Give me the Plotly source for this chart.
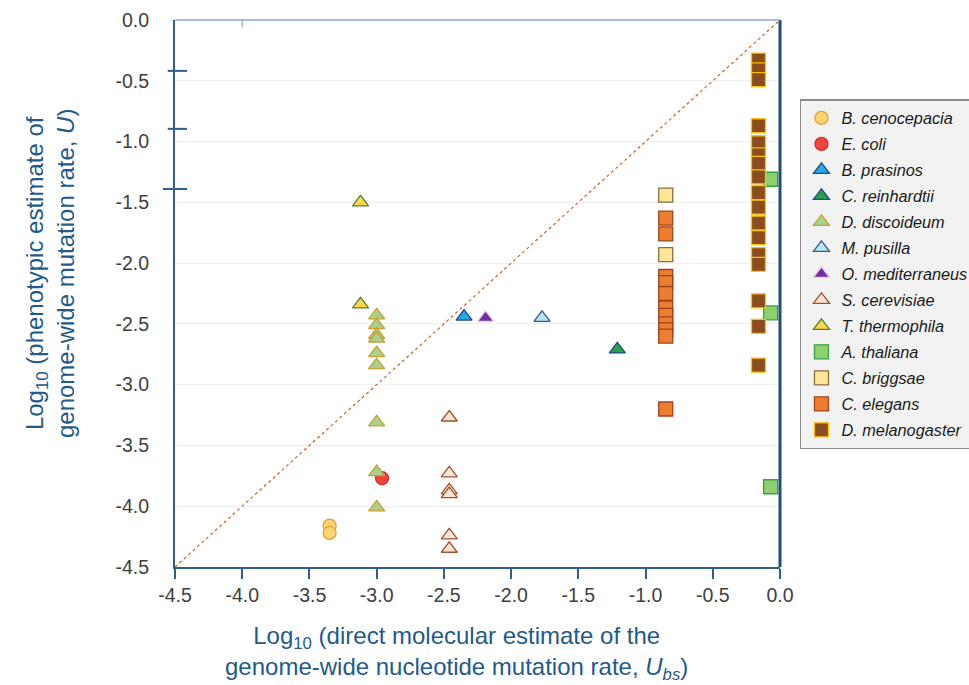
import plotly.graph_objects as go

# ---- data (log10 values) ----
species = ["B. cenocepacia", "E. coli", "B. prasinos", "C. reinhardtii", "D. discoideum",
           "M. pusilla", "O. mediterraneus", "S. cerevisiae", "T. thermophila",
           "A. thaliana", "C. briggsae", "C. elegans", "D. melanogaster"]

b_cenocepacia_x = [-3.35, -3.35]
b_cenocepacia_y = [-4.16, -4.22]
e_coli_x = [-2.96]
e_coli_y = [-3.77]
b_prasinos_x = [-2.35]
b_prasinos_y = [-2.44]
c_reinhardtii_x = [-1.21]
c_reinhardtii_y = [-2.71]
d_discoideum_x = [-3.0] * 9
d_discoideum_y = [-2.43, -2.51, -2.59, -2.62, -2.74, -2.84, -3.31, -3.72, -4.01]
m_pusilla_x = [-1.77]
m_pusilla_y = [-2.45]
o_mediterraneus_x = [-2.19]
o_mediterraneus_y = [-2.45]
s_cerevisiae_x = [-2.46] * 6
s_cerevisiae_y = [-3.27, -3.73, -3.87, -3.90, -4.24, -4.35]
t_thermophila_x = [-3.12, -3.12]
t_thermophila_y = [-1.50, -2.34]
a_thaliana_x = [-0.07, -0.07, -0.07]
a_thaliana_y = [-1.31, -2.41, -3.84]
c_briggsae_x = [-0.85, -0.85]
c_briggsae_y = [-1.44, -1.93]
c_elegans_x = [-0.85] * 11
c_elegans_y = [-1.63, -1.76, -2.11, -2.16, -2.25, -2.37, -2.43, -2.50, -2.55, -2.60, -3.20]
d_melanogaster_x = [-0.16] * 17
d_melanogaster_y = [-0.33, -0.41, -0.49, -0.87, -1.01, -1.11, -1.18, -1.29, -1.42,
                    -1.54, -1.67, -1.79, -1.93, -2.01, -2.31, -2.52, -2.84]

identity_x = [-4.5, 0.0]
identity_y = [-4.5, 0.0]

x_ticks = [-4.5, -4.0, -3.5, -3.0, -2.5, -2.0, -1.5, -1.0, -0.5, 0.0]
y_ticks = [0.0, -0.5, -1.0, -1.5, -2.0, -2.5, -3.0, -3.5, -4.0, -4.5]
x_ticklabels = ["-4.5", "-4.0", "-3.5", "-3.0", "-2.5", "-2.0", "-1.5", "-1.0", "-0.5", "0.0"]
y_ticklabels = ["0.0", "-0.5", "-1.0", "-1.5", "-2.0", "-2.5", "-3.0", "-3.5", "-4.0", "-4.5"]

x_title = "Log<sub>10</sub> (direct molecular estimate of the<br>genome-wide nucleotide mutation rate, <i>U<sub>bs</sub></i>)"
y_title = "Log<sub>10</sub> (phenotypic estimate of<br>genome-wide mutation rate, <i>U</i>)"

series = [
    (b_cenocepacia_x, b_cenocepacia_y, "circle", "#FFD470", "#D9A441"),
    (e_coli_x, e_coli_y, "circle", "#EE4444", "#D03030"),
    (b_prasinos_x, b_prasinos_y, "triangle-up", "#2AA7E0", "#1F4E79"),
    (c_reinhardtii_x, c_reinhardtii_y, "triangle-up", "#2E9E4A", "#1F4E8C"),
    (d_discoideum_x, d_discoideum_y, "triangle-up", "#A9D18E", "#C9A032"),
    (m_pusilla_x, m_pusilla_y, "triangle-up", "#BDE4F2", "#2F5F8A"),
    (o_mediterraneus_x, o_mediterraneus_y, "triangle-up", "#7030A0", "#F2C6EA"),
    (s_cerevisiae_x, s_cerevisiae_y, "triangle-up", "#FCE4D6", "#A0522D"),
    (t_thermophila_x, t_thermophila_y, "triangle-up", "#FFD54F", "#548235"),
    (a_thaliana_x, a_thaliana_y, "square", "#8FCF6E", "#3AA048"),
    (c_briggsae_x, c_briggsae_y, "square", "#FFE699", "#8C6D3F"),
    (c_elegans_x, c_elegans_y, "square", "#ED7D31", "#A0441A"),
    (d_melanogaster_x, d_melanogaster_y, "square", "#8B4C1F", "#FFC000"),
]

fig = go.Figure()

fig.add_trace(go.Scatter(
    x=identity_x, y=identity_y, mode="lines",
    line=dict(color="#C8622A", width=1.2, dash="dot"),
    showlegend=False, hoverinfo="skip"))

for name, (xs, ys, sym, fill, edge) in zip(species, series):
    size = 14 if sym != "circle" else 13
    fig.add_trace(go.Scatter(
        x=xs, y=ys, mode="markers", name="<i>" + name + "</i>", legendgroup=name,
        marker=dict(symbol=sym, size=size, color=fill,
                    line=dict(color=edge, width=1.3))))

axis_font = dict(family="Liberation Sans, Arial, sans-serif", size=19.5, color="#404040")
title_color = "#245A8A"
title_font = dict(family="Liberation Sans, Arial, sans-serif", size=24, color=title_color)

fig.update_layout(
    width=969, height=685,
    margin=dict(l=175, r=189, t=20, b=118, autoexpand=False),
    paper_bgcolor="white", plot_bgcolor="white",
    font=dict(family="Liberation Sans, Arial, sans-serif"),
    showlegend=True,
    legend=dict(
        x=1.033, y=0.855, xanchor="left", yanchor="top",
        bgcolor="#F2F2F2", bordercolor="#8C8C8C", borderwidth=1.5,
        font=dict(family="Liberation Sans, Arial, sans-serif", size=16.3, color="#1a1a1a"),
        tracegroupgap=1.8, itemsizing="trace",
    ),
    xaxis=dict(
        range=[-4.5, 0.0], tickvals=x_ticks, ticktext=x_ticklabels,
        tickfont=axis_font, showgrid=False, zeroline=False, automargin=False,
        showline=True, linecolor="#2F5F8A", linewidth=2,
        ticks="outside", ticklen=10, tickcolor="#2F5F8A", tickwidth=1.5,
    ),
    yaxis=dict(
        range=[-4.5, 0.0], tickvals=y_ticks, ticktext=y_ticklabels,
        tickfont=axis_font, showgrid=True, gridcolor="#EFEFEF", gridwidth=1,
        zeroline=False, showline=True, linecolor="#2F5F8A", linewidth=2, automargin=False,
        ticks="", ticklabelstandoff=20,
    ),
)

# axis titles (placed like the reference, slightly off-centre)
fig.add_annotation(text=x_title, xref="paper", yref="paper", x=0.4645, y=-0.158,
                   xanchor="center", yanchor="middle", showarrow=False, font=title_font)
fig.add_annotation(text=y_title, xref="paper", yref="paper", x=-0.2065, y=0.5375,
                   xanchor="center", yanchor="middle", textangle=-90, showarrow=False,
                   font=title_font)

# right and top frame lines
fig.add_shape(type="line", xref="paper", yref="paper", x0=1, x1=1, y0=0, y1=1,
              line=dict(color="#1F4E79", width=3))
fig.add_shape(type="line", xref="paper", yref="paper", x0=0, x1=1, y0=1, y1=1,
              line=dict(color="#8EA9C1", width=1.5))
fig.add_shape(type="line", x0=-4.0, x1=-4.0, y0=0.0, y1=-0.06,
              line=dict(color="#8EA9C1", width=1.2))

# stray tick marks on the left axis
for yp, x0 in [(0.907, -0.012), (0.801, -0.012), (0.691, -0.02)]:
    fig.add_shape(type="line", xref="paper", yref="paper", x0=x0, x1=0.02, y0=yp, y1=yp,
                  line=dict(color="#2F5F8A", width=2))

fig.write_html("out.html", config={"displayModeBar": False},
               post_script="document.body.style.margin='0';document.body.style.overflow='hidden';")
